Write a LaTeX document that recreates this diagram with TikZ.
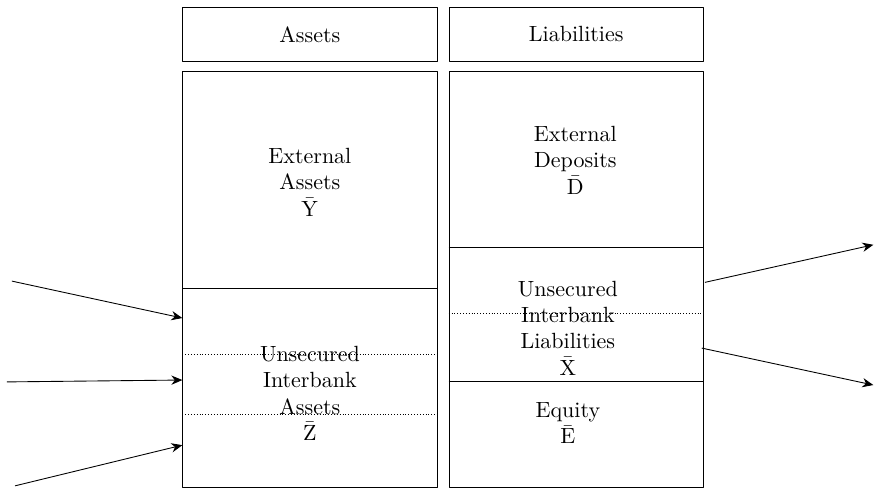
\documentclass[tikz,border=0pt]{standalone}
\usetikzlibrary{positioning,arrows.meta}
\tikzset{
	head/.style={draw, minimum width=4.06cm, minimum height=0.85cm, inner sep=0pt},
	sheet/.style={draw, minimum width=4.06cm, minimum height=6.64cm, inner sep=0pt},
	item/.style={align=center, inner sep=1pt},
	sub/.style={densely dotted, line width=0.3pt}
}
\begin{document}
\begin{tikzpicture}[line join = round, >={Stealth[length=5pt,width=4.2pt,inset=1.6pt]}, line width=0.4pt]
	
	\useasboundingbox (0,0) rectangle (13.96,7.78);
	\node[head] (asshead) at (4.95,7.23) {Assets};
	\node[head, right=0.18cm of asshead] (liahead) {Liabilities};
	\node[sheet, below=0.15cm of asshead] (ass) {};
	\node[sheet, below=0.15cm of liahead] (lia) {};
	
	% asset side
	\draw (ass.west |- 0,3.18) -- (ass.east |- 0,3.18);
	\draw[sub] (ass.west |- 0,2.12) -- (ass.east |- 0,2.12);
	\draw[sub] (ass.west |- 0,1.17) -- (ass.east |- 0,1.17);
	\node[item] (ext) at (4.95,4.87) {External\\Assets\\$\bar{\mathrm{Y}}$};
	\node[item] (ibass) at (4.95,1.50) {Unsecured\\Interbank\\Assets\\$\bar{\mathrm{Z}}$};
	
	% liability side
	\draw (lia.west |- 0,3.82) -- (lia.east |- 0,3.82);
	\draw[sub] (lia.west |- 0,2.78) -- (lia.east |- 0,2.78);
	\draw (lia.west |- 0,1.69) -- (lia.east |- 0,1.69);
	\node[item] (dep) at (9.19,5.22) {External\\Deposits\\$\bar{\mathrm{D}}$};
	\node[item] (iblia) at (9.07,2.54) {Unsecured\\Interbank\\Liabilities\\$\bar{\mathrm{X}}$};
	\node[item] (eq) at (9.07,1.02) {Equity\\$\bar{\mathrm{E}}$};
	
	% flows in
	\coordinate (in1) at (0.19,3.29);
	\coordinate (in2) at (0.11,1.68);
	\coordinate (in3) at (0.24,0.02);
	\draw[->] (in1) -- (ass.west |- 0,2.70);
	\draw[->] (in2) -- (ass.west |- 0,1.71);
	\draw[->] (in3) -- (ass.west |- 0,0.67);
	
	% flows out
	\coordinate (out1) at (13.95,3.87);
	\coordinate (out2) at (13.95,1.63);
	\draw[->] (11.26,3.27) -- (out1);
	\draw[->] (11.21,2.22) -- (out2);
\end{tikzpicture}
\end{document}
